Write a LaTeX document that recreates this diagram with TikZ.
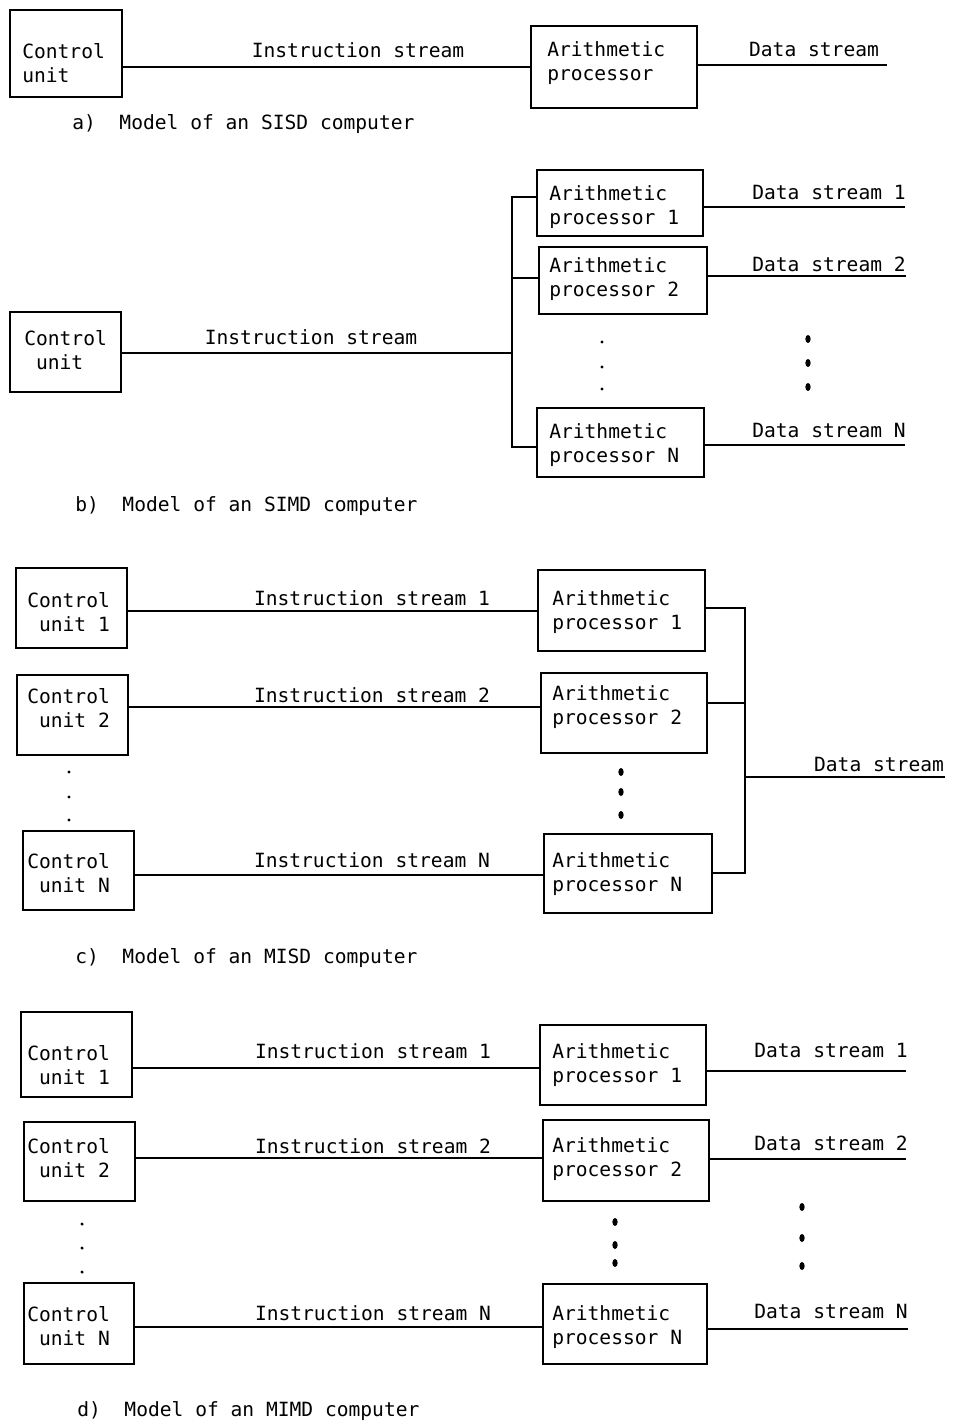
\documentclass[tikz,border=0pt]{standalone}
\usepackage{fontspec}
\setmainfont{DejaVu Sans Mono}
\usetikzlibrary{fit}
\begin{document}
\frenchspacing
\begin{tikzpicture}[x=0.75pt,y=-0.75pt,
  every node/.style={font=\fontsize{14.7}{18}\selectfont, inner sep=0pt},
  box/.style={draw, line width=1.7pt, inner sep=0pt},
  wire/.style={line width=1.8pt},
  boxtext/.style={anchor=north west, align=left},
  lbl/.style={anchor=base},
  caption/.style={anchor=base west},
]
\path[fill=white] (0,0) rectangle (955,1424);
\useasboundingbox (0,0) rectangle (955,1424);

% ---------------- a) SISD ----------------
\node[box, fit={(10,10) (122,97)}] (cuA) {};
\node[box, fit={(531,26) (697,108)}] (apA) {};
\node[boxtext] (cuAt) at (22,43) {Control\\unit};
\node[boxtext] (apAt) at (547,41) {Arithmetic\\processor};
\coordinate (dsA) at (887,65);
\draw[wire] (cuA.east |- 0,67) -- (apA.west |- 0,67);
\draw[wire] (apA.east |- dsA) -- (dsA);
\node[lbl] (isAl) at (358,57) {Instruction stream};
\node[lbl] (dsAl) at (814,56) {Data stream};
\node[caption] (capA) at (72,129) {a)\ \ Model of an SISD computer};

% ---------------- b) SIMD ----------------
\node[box, fit={(10,312) (121,392)}] (cuB) {};
\node[box, fit={(537,170) (703,236)}] (apB1) {};
\node[box, fit={(539,247) (707,314)}] (apB2) {};
\node[box, fit={(537,408) (704,477)}] (apBN) {};
\node[boxtext] (cuBt) at (24,330) {Control\\\phantom{u}unit};
\node[boxtext] (apB1t) at (549,185) {Arithmetic\\processor 1};
\node[boxtext] (apB2t) at (549,257) {Arithmetic\\processor 2};
\node[boxtext] (apBNt) at (549,423) {Arithmetic\\processor N};
\coordinate (busBtop) at (512,197);
\coordinate (busBmid) at (512,278);
\coordinate (busBin)  at (512,353);
\coordinate (busBbot) at (512,447);
\draw[wire] (cuB.east |- busBin) -- (busBin);
\draw[wire] (apB1.west |- busBtop) -- (busBtop) -- (busBbot) -- (apBN.west |- busBbot);
\draw[wire] (busBmid) -- (apB2.west |- busBmid);
\coordinate (dsB1) at (905,207);
\coordinate (dsB2) at (906,276);
\coordinate (dsBN) at (905,445);
\draw[wire] (apB1.east |- dsB1) -- (dsB1);
\draw[wire] (apB2.east |- dsB2) -- (dsB2);
\draw[wire] (apBN.east |- dsBN) -- (dsBN);
\node[lbl] (isBl) at (311,344) {Instruction stream};
\node[lbl] (dsB1l) at (829,199) {Data stream 1};
\node[lbl] (dsB2l) at (829,271) {Data stream 2};
\node[lbl] (dsBNl) at (829,437) {Data stream N};
\foreach \y in {342,367,389} \fill (602,\y) circle[radius=1.3pt];
\foreach \y in {339,363,387} \fill (808,\y) ellipse[x radius=2pt, y radius=3pt];
\node[caption] (capB) at (75,511) {b)\ \ Model of an SIMD computer};

% ---------------- c) MISD ----------------
\node[box, fit={(16,568) (127,648)}] (cuC1) {};
\node[box, fit={(17,675) (128,755)}] (cuC2) {};
\node[box, fit={(23,831) (134,910)}] (cuCN) {};
\node[box, fit={(538,570) (705,651)}] (apC1) {};
\node[box, fit={(541,673) (707,753)}] (apC2) {};
\node[box, fit={(544,834) (712,913)}] (apCN) {};
\node[boxtext] (cuC1t) at (27,592) {Control\\\phantom{u}unit 1};
\node[boxtext] (cuC2t) at (27,688) {Control\\\phantom{u}unit 2};
\node[boxtext] (cuCNt) at (27,853) {Control\\\phantom{u}unit N};
\node[boxtext] (apC1t) at (552,590) {Arithmetic\\processor 1};
\node[boxtext] (apC2t) at (552,685) {Arithmetic\\processor 2};
\node[boxtext] (apCNt) at (552,852) {Arithmetic\\processor N};
\draw[wire] (cuC1.east |- 0,611) -- (apC1.west |- 0,611);
\draw[wire] (cuC2.east |- 0,707) -- (apC2.west |- 0,707);
\draw[wire] (cuCN.east |- 0,875) -- (apCN.west |- 0,875);
\coordinate (busCtop) at (745,608);
\coordinate (busCmid) at (745,703);
\coordinate (busCout) at (745,777);
\coordinate (busCbot) at (745,873);
\coordinate (dsC) at (945,777);
\draw[wire] (apC1.east |- busCtop) -- (busCtop) -- (busCbot) -- (apCN.east |- busCbot);
\draw[wire] (apC2.east |- busCmid) -- (busCmid);
\draw[wire] (busCout) -- (dsC);
\node[lbl] (isC1l) at (372,605) {Instruction stream 1};
\node[lbl] (isC2l) at (372,702) {Instruction stream 2};
\node[lbl] (isCNl) at (372,867) {Instruction stream N};
\node[lbl] (dsCl) at (879,771) {Data stream};
\foreach \y in {772,797,820} \fill (69,\y) circle[radius=1.3pt];
\foreach \y in {772,792,815} \fill (621,\y) ellipse[x radius=2pt, y radius=3pt];
\node[caption] (capC) at (75,963) {c)\ \ Model of an MISD computer};

% ---------------- d) MIMD ----------------
\node[box, fit={(21,1012) (132,1097)}] (cuD1) {};
\node[box, fit={(24,1122) (135,1201)}] (cuD2) {};
\node[box, fit={(24,1283) (134,1364)}] (cuDN) {};
\node[box, fit={(540,1025) (706,1105)}] (apD1) {};
\node[box, fit={(543,1120) (709,1201)}] (apD2) {};
\node[box, fit={(543,1284) (707,1364)}] (apDN) {};
\node[boxtext] (cuD1t) at (27,1045) {Control\\\phantom{u}unit 1};
\node[boxtext] (cuD2t) at (27,1138) {Control\\\phantom{u}unit 2};
\node[boxtext] (cuDNt) at (27,1306) {Control\\\phantom{u}unit N};
\node[boxtext] (apD1t) at (552,1043) {Arithmetic\\processor 1};
\node[boxtext] (apD2t) at (552,1137) {Arithmetic\\processor 2};
\node[boxtext] (apDNt) at (552,1305) {Arithmetic\\processor N};
\draw[wire] (cuD1.east |- 0,1068) -- (apD1.west |- 0,1068);
\draw[wire] (cuD2.east |- 0,1158) -- (apD2.west |- 0,1158);
\draw[wire] (cuDN.east |- 0,1327) -- (apDN.west |- 0,1327);
\coordinate (dsD1) at (906,1071);
\coordinate (dsD2) at (906,1159);
\coordinate (dsDN) at (908,1329);
\draw[wire] (apD1.east |- dsD1) -- (dsD1);
\draw[wire] (apD2.east |- dsD2) -- (dsD2);
\draw[wire] (apDN.east |- dsDN) -- (dsDN);
\node[lbl] (isD1l) at (373,1058) {Instruction stream 1};
\node[lbl] (isD2l) at (373,1153) {Instruction stream 2};
\node[lbl] (isDNl) at (373,1320) {Instruction stream N};
\node[lbl] (dsD1l) at (831,1057) {Data stream 1};
\node[lbl] (dsD2l) at (831,1150) {Data stream 2};
\node[lbl] (dsDNl) at (831,1318) {Data stream N};
\foreach \y in {1224,1248,1272} \fill (82,\y) circle[radius=1.3pt];
\foreach \y in {1222,1245,1263} \fill (615,\y) ellipse[x radius=2pt, y radius=3pt];
\foreach \y in {1207,1238,1266} \fill (802,\y) ellipse[x radius=2pt, y radius=3pt];
\node[caption] (capD) at (77,1416) {d)\ \ Model of an MIMD computer};
\end{tikzpicture}
\end{document}
